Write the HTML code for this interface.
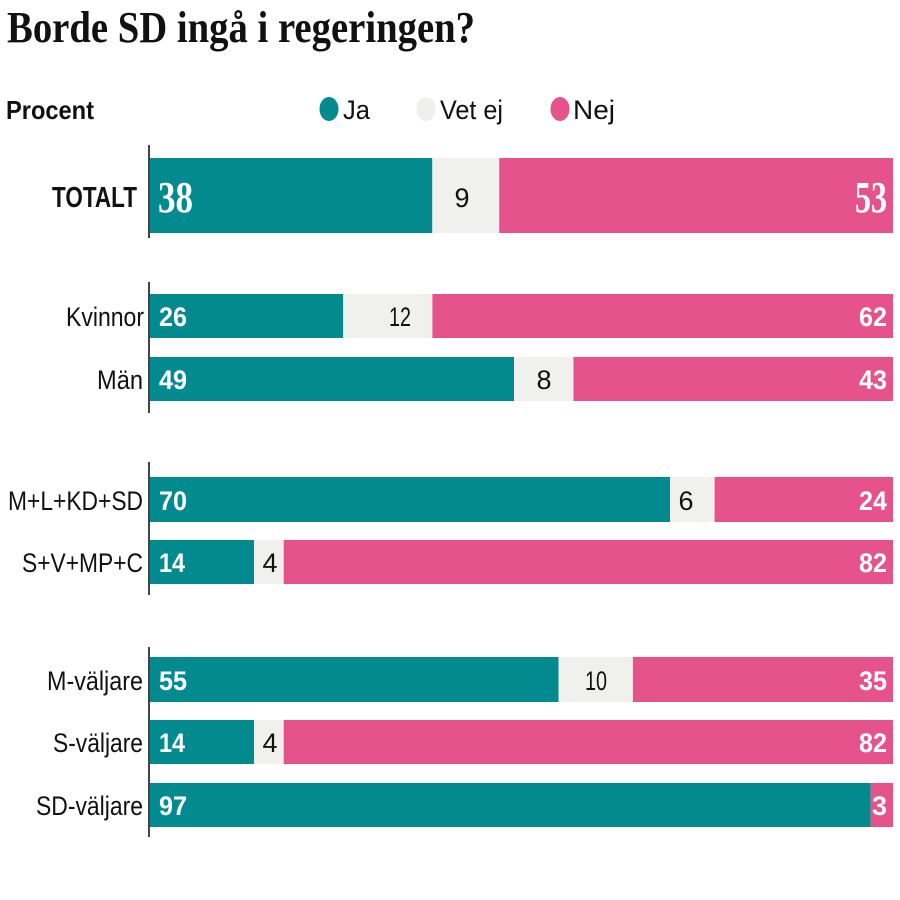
<!DOCTYPE html>
<html><head><meta charset="utf-8"><style>
html,body{margin:0;padding:0;background:#fff;}
svg{display:block;}
.lab{font-family:"Liberation Sans",sans-serif;font-size:27px;fill:#111;}
.b{font-family:"Liberation Sans",sans-serif;font-weight:bold;font-size:27px;fill:#fff;}
.m{font-family:"Liberation Sans",sans-serif;font-size:27px;fill:#111;}
</style></head><body>
<svg width="900" height="900" viewBox="0 0 900 900" xmlns="http://www.w3.org/2000/svg">
<rect width="900" height="900" fill="#fff"/>
<text x="7" y="42" font-family="Liberation Serif, serif" font-weight="bold" font-size="44" fill="#111" textLength="468" lengthAdjust="spacingAndGlyphs">Borde SD ingå i regeringen?</text>
<text x="6" y="119" font-family="Liberation Sans, sans-serif" font-weight="bold" font-size="26" fill="#111" textLength="88" lengthAdjust="spacingAndGlyphs">Procent</text>

<ellipse cx="329" cy="109" rx="9.5" ry="12" fill="#038a8f"/>
<text x="343" y="119" class="lab" font-size="29" textLength="27" lengthAdjust="spacingAndGlyphs">Ja</text>
<ellipse cx="426" cy="109" rx="9.5" ry="12" fill="#efefec"/>
<text x="440" y="119" class="lab" textLength="63" lengthAdjust="spacingAndGlyphs">Vet ej</text>
<ellipse cx="560" cy="109" rx="9.5" ry="12" fill="#e6528b"/>
<text x="573" y="119" class="lab" textLength="42" lengthAdjust="spacingAndGlyphs">Nej</text>

<!-- axes -->
<rect x="148" y="145" width="2" height="93" fill="#444"/>
<rect x="148" y="282" width="2" height="131" fill="#444"/>
<rect x="148" y="462" width="2" height="133" fill="#444"/>
<rect x="148" y="647" width="2" height="190" fill="#444"/>

<!-- TOTALT -->
<rect x="150" y="158" width="282.3" height="75" fill="#038a8f"/>
<rect x="432.3" y="158" width="66.9" height="75" fill="#f0f0ed"/>
<rect x="499.2" y="158" width="393.8" height="75" fill="#e6528b"/>
<text x="52" y="207" font-family="Liberation Sans, sans-serif" font-weight="bold" font-size="29" fill="#111" textLength="85" lengthAdjust="spacingAndGlyphs">TOTALT</text>
<text x="158" y="212" font-family="Liberation Serif, serif" font-weight="bold" font-size="44" fill="#fff" textLength="35" lengthAdjust="spacingAndGlyphs">38</text>
<text x="462" y="207" class="m" text-anchor="middle">9</text>
<text x="855" y="212" font-family="Liberation Serif, serif" font-weight="bold" font-size="44" fill="#fff" textLength="32" lengthAdjust="spacingAndGlyphs">53</text>

<!-- Kvinnor -->
<rect x="150" y="294" width="193.2" height="44" fill="#038a8f"/>
<rect x="343.2" y="294" width="89.2" height="44" fill="#f0f0ed"/>
<rect x="432.4" y="294" width="460.6" height="44" fill="#e6528b"/>
<text x="144" y="326" class="lab" text-anchor="end" textLength="78" lengthAdjust="spacingAndGlyphs">Kvinnor</text>
<text x="159" y="326" class="b" textLength="28" lengthAdjust="spacingAndGlyphs">26</text>
<text x="389" y="326" class="m" textLength="22" lengthAdjust="spacingAndGlyphs">12</text>
<text x="859" y="326" class="b" textLength="28" lengthAdjust="spacingAndGlyphs">62</text>

<!-- Män -->
<rect x="150" y="357" width="364" height="44" fill="#038a8f"/>
<rect x="514" y="357" width="59.5" height="44" fill="#f0f0ed"/>
<rect x="573.5" y="357" width="319.5" height="44" fill="#e6528b"/>
<text x="143" y="389" class="lab" text-anchor="end" textLength="46" lengthAdjust="spacingAndGlyphs">Män</text>
<text x="159" y="389" class="b" textLength="28" lengthAdjust="spacingAndGlyphs">49</text>
<text x="544" y="389" class="m" text-anchor="middle">8</text>
<text x="859" y="389" class="b" textLength="28" lengthAdjust="spacingAndGlyphs">43</text>

<!-- M+L+KD+SD -->
<rect x="150" y="477" width="520" height="45" fill="#038a8f"/>
<rect x="670" y="477" width="44.6" height="45" fill="#f0f0ed"/>
<rect x="714.6" y="477" width="178.4" height="45" fill="#e6528b"/>
<text x="143" y="510" class="lab" text-anchor="end" textLength="135" lengthAdjust="spacingAndGlyphs">M+L+KD+SD</text>
<text x="159" y="510" class="b" textLength="28" lengthAdjust="spacingAndGlyphs">70</text>
<text x="686" y="510" class="m" text-anchor="middle">6</text>
<text x="859" y="510" class="b" textLength="28" lengthAdjust="spacingAndGlyphs">24</text>

<!-- S+V+MP+C -->
<rect x="150" y="540" width="104" height="44" fill="#038a8f"/>
<rect x="254" y="540" width="29.7" height="44" fill="#f0f0ed"/>
<rect x="283.7" y="540" width="609.3" height="44" fill="#e6528b"/>
<text x="143" y="572" class="lab" text-anchor="end" textLength="121" lengthAdjust="spacingAndGlyphs">S+V+MP+C</text>
<text x="159" y="572" class="b" textLength="26" lengthAdjust="spacingAndGlyphs">14</text>
<text x="270" y="572" class="m" text-anchor="middle">4</text>
<text x="859" y="572" class="b" textLength="28" lengthAdjust="spacingAndGlyphs">82</text>

<!-- M-väljare -->
<rect x="150" y="657" width="408.6" height="45" fill="#038a8f"/>
<rect x="558.6" y="657" width="74.3" height="45" fill="#f0f0ed"/>
<rect x="632.9" y="657" width="260.1" height="45" fill="#e6528b"/>
<text x="143" y="690" class="lab" text-anchor="end" textLength="96" lengthAdjust="spacingAndGlyphs">M-väljare</text>
<text x="159" y="690" class="b" textLength="28" lengthAdjust="spacingAndGlyphs">55</text>
<text x="585" y="690" class="m" textLength="22" lengthAdjust="spacingAndGlyphs">10</text>
<text x="859" y="690" class="b" textLength="28" lengthAdjust="spacingAndGlyphs">35</text>

<!-- S-väljare -->
<rect x="150" y="720" width="104" height="44" fill="#038a8f"/>
<rect x="254" y="720" width="29.7" height="44" fill="#f0f0ed"/>
<rect x="283.7" y="720" width="609.3" height="44" fill="#e6528b"/>
<text x="143" y="752" class="lab" text-anchor="end" textLength="90" lengthAdjust="spacingAndGlyphs">S-väljare</text>
<text x="159" y="752" class="b" textLength="26" lengthAdjust="spacingAndGlyphs">14</text>
<text x="270" y="752" class="m" text-anchor="middle">4</text>
<text x="859" y="752" class="b" textLength="28" lengthAdjust="spacingAndGlyphs">82</text>

<!-- SD-väljare -->
<rect x="150" y="783" width="720.7" height="44" fill="#038a8f"/>
<rect x="870.7" y="783" width="22.3" height="44" fill="#e6528b"/>
<text x="143" y="815" class="lab" text-anchor="end" textLength="107" lengthAdjust="spacingAndGlyphs">SD-väljare</text>
<text x="159" y="815" class="b" textLength="28" lengthAdjust="spacingAndGlyphs">97</text>
<text x="887" y="815" class="b" text-anchor="end">3</text>
</svg>
</body></html>
